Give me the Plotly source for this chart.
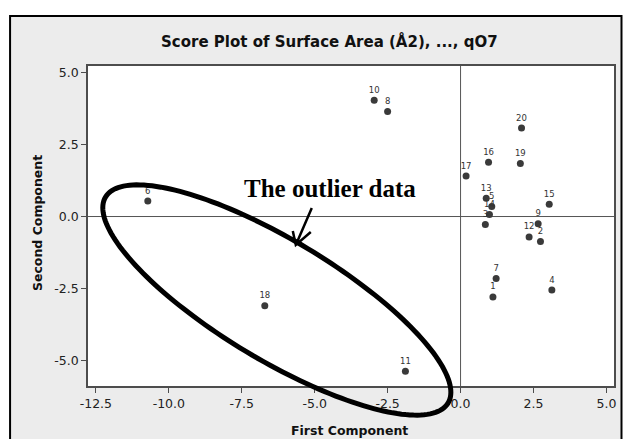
import numpy as np
import plotly.graph_objects as go

# ---- data ----
obs_labels = ["1", "2", "3", "4", "5", "6", "7", "8", "9", "10",
              "11", "12", "13", "14", "15", "16", "17", "18", "19", "20"]
first_comp = [1.11, 2.74, 0.85, 3.13, 1.07, -10.72, 1.22, -2.50, 2.66, -2.96,
              -1.89, 2.35, 0.88, 0.99, 3.04, 0.96, 0.19, -6.71, 2.05, 2.09]
second_comp = [-2.80, -0.87, -0.28, -2.56, 0.35, 0.54, -2.16, 3.66, -0.25, 4.05,
               -5.39, -0.71, 0.64, 0.07, 0.43, 1.89, 1.41, -3.11, 1.85, 3.08]
x_ticks = [-12.5, -10.0, -7.5, -5.0, -2.5, 0.0, 2.5, 5.0]
y_ticks = [-5.0, -2.5, 0.0, 2.5, 5.0]

# ---- layout geometry ----
W, H = 635, 439
ML, MR, MT, MB = 88, 20.5, 66, 53
PW, PH = W - ML - MR, H - MT - MB
XR = [-12.77, 5.26]
YR = [-5.90, 5.24]


def px2p(px):
    return (px - ML) / PW


def py2p(py):
    return (H - MB - py) / PH


fig = go.Figure()
fig.add_trace(go.Scatter(
    x=first_comp, y=second_comp, mode="markers+text",
    text=obs_labels, textposition="top center",
    textfont=dict(family="DejaVu Sans", size=8.5, color="#333333"),
    marker=dict(size=7, color="#3a3a3a"),
    hoverinfo="x+y+text", showlegend=False,
))

shapes = []
# outer frame (grey panel with black border)
shapes.append(dict(type="rect", xref="paper", yref="paper", layer="below",
                   x0=px2p(10), x1=px2p(622), y0=py2p(448), y1=py2p(16),
                   fillcolor="#ececec", line=dict(color="black", width=2)))
# white data region
shapes.append(dict(type="rect", xref="paper", yref="paper", layer="below",
                   x0=0, x1=1, y0=0, y1=1, fillcolor="white",
                   line=dict(width=0)))
# reference lines
shapes.append(dict(type="line", xref="x", yref="paper", layer="below",
                   x0=0, x1=0, y0=0, y1=1, line=dict(color="#555555", width=1)))
shapes.append(dict(type="line", xref="paper", yref="y", layer="below",
                   x0=0, x1=1, y0=0, y1=0, line=dict(color="#555555", width=1)))

# highlight ellipse around the outliers (pixel geometry -> paper coords)
ecx, ecy = 277, 300
ea, eb, eth = 200, 60, np.deg2rad(31)
t = np.linspace(0, 2 * np.pi, 181)
ex = ecx + ea * np.cos(t) * np.cos(eth) - eb * np.sin(t) * np.sin(eth)
ey = ecy + ea * np.cos(t) * np.sin(eth) + eb * np.sin(t) * np.cos(eth)
path = "M " + " L ".join(f"{px2p(a):.5f},{py2p(b):.5f}" for a, b in zip(ex, ey)) + " Z"
shapes.append(dict(type="path", xref="paper", yref="paper", path=path,
                   line=dict(color="black", width=5), layer="above"))

# arrow
ax0, ay0 = 312, 208
tx, ty = 296, 245
b1, b2 = (293, 231), (311, 232)
arrow = (f"M {px2p(ax0)},{py2p(ay0)} L {px2p(tx)},{py2p(ty)} "
         f"M {px2p(b1[0])},{py2p(b1[1])} L {px2p(tx)},{py2p(ty)} "
         f"L {px2p(b2[0])},{py2p(b2[1])}")
shapes.append(dict(type="path", xref="paper", yref="paper", path=arrow,
                   line=dict(color="black", width=2.5), layer="above"))

annotations = [
    dict(text="<b>Score Plot of Surface Area (Å2), ..., qO7</b>",
         xref="paper", yref="paper", x=px2p(330), y=py2p(41),
         xanchor="center", yanchor="middle", showarrow=False,
         font=dict(family="DejaVu Sans", size=15, color="#111111")),
    dict(text="<b>First Component</b>", xref="paper", yref="paper",
         x=px2p(350), y=py2p(430), xanchor="center", yanchor="middle",
         showarrow=False, font=dict(family="DejaVu Sans", size=12.5, color="#111111")),
    dict(text="<b>Second Component</b>", xref="paper", yref="paper",
         x=px2p(37), y=py2p(223), xanchor="center", yanchor="middle",
         textangle=-90, showarrow=False,
         font=dict(family="DejaVu Sans", size=12.5, color="#111111")),
    dict(text="<b>The outlier data</b>", xref="paper", yref="paper",
         x=px2p(330), y=py2p(188), xanchor="center", yanchor="middle",
         showarrow=False,
         font=dict(family="Liberation Serif", size=25, color="black")),
]

axis_common = dict(showgrid=False, zeroline=False, showline=True, mirror=True,
                   linecolor="#4d4d4d", linewidth=1.5, ticks="outside",
                   ticklen=5, tickcolor="#4d4d4d", tickwidth=1,
                   tickfont=dict(family="DejaVu Sans", size=12.5, color="#222222"))

fig.update_layout(
    width=W, height=H,
    margin=dict(l=ML, r=MR, t=MT, b=MB, pad=0),
    paper_bgcolor="white", plot_bgcolor="white",
    shapes=shapes, annotations=annotations,
    xaxis=dict(range=XR, tickvals=x_ticks,
               ticktext=[f"{v:.1f}" for v in x_ticks], **axis_common),
    yaxis=dict(range=YR, tickvals=y_ticks,
               ticktext=[f"{v:.1f}" for v in y_ticks], **axis_common),
)

fig.write_html("out.html", config={"displayModeBar": False},
               post_script="document.body.style.margin='0';"
                           "document.body.style.overflow='hidden';")
